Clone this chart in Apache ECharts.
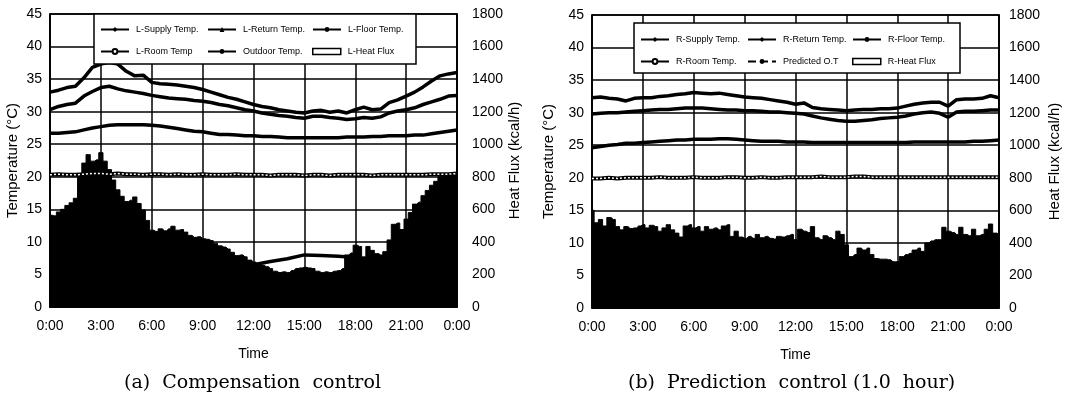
<!DOCTYPE html>
<html>
<head>
<meta charset="utf-8">
<script src="https://cdn.jsdelivr.net/npm/echarts@6/dist/echarts.min.js"></script>
<style>
html, body { margin: 0; padding: 0; background: #fff; }
#main { width: 1078px; height: 416px; }
</style>
</head>
<body>
<div id="main"></div>
<script>
// time stamps (hours) for the sampled series
var hoursHour = [];
for (var i = 0; i <= 24; i++) hoursHour.push(i);
var hoursHalf = [];
for (var i = 0; i <= 48; i++) hoursHalf.push(i / 2);
var hoursQuarter = [];
for (var i = 0; i <= 96; i++) hoursQuarter.push(i / 4);

var timeLabels = ['0:00', '3:00', '6:00', '9:00', '12:00', '15:00', '18:00', '21:00', '0:00'];

// (a) compensation control - temperatures every 30 min (°C)
var lSupply = [33.0, 33.3, 33.7, 33.9, 35.2, 36.8, 37.3, 37.6, 37.3, 36.2, 35.5, 35.6, 34.5, 34.3, 34.2, 34.1, 33.9, 33.7, 33.4, 33.0, 32.6, 32.2, 31.9, 31.5, 31.1,
    30.8, 30.6, 30.3, 30.1, 29.9, 29.8, 30.1, 30.2, 29.9, 30.1, 29.8, 30.3, 30.7, 30.3, 30.4, 31.4, 31.8, 32.4, 33.0, 33.8, 34.7, 35.5, 35.8, 36.0];
var lReturn = [30.3, 30.8, 31.1, 31.3, 32.4, 33.1, 33.7, 33.9, 33.5, 33.2, 33.0, 32.8, 32.5, 32.3, 32.1, 32.0, 31.9, 31.7, 31.6, 31.4, 31.1, 30.9, 30.6, 30.3, 30.1,
    29.8, 29.6, 29.4, 29.3, 29.1, 29.0, 29.3, 29.3, 29.1, 29.0, 28.8, 28.9, 29.1, 29.0, 29.2, 29.8, 30.1, 30.3, 30.6, 31.1, 31.5, 31.9, 32.4, 32.5];
var lFloor = [26.7, 26.7, 26.8, 26.9, 27.2, 27.5, 27.7, 27.9, 28.0, 28.0, 28.0, 28.0, 27.9, 27.8, 27.6, 27.4, 27.2, 27.0, 26.9, 26.7, 26.5, 26.5, 26.4, 26.3, 26.3,
    26.2, 26.2, 26.1, 26.0, 26.0, 26.0, 26.0, 26.0, 26.0, 26.0, 26.1, 26.1, 26.1, 26.2, 26.2, 26.3, 26.3, 26.3, 26.4, 26.4, 26.6, 26.8, 27.0, 27.2];
var lRoom = [20.3, 20.4, 20.3, 20.3, 20.4, 20.5, 20.5, 20.4, 20.5, 20.4, 20.4, 20.3, 20.4, 20.4, 20.3, 20.4, 20.3, 20.3, 20.4, 20.3, 20.3, 20.3, 20.4, 20.3, 20.3,
    20.3, 20.2, 20.3, 20.3, 20.3, 20.2, 20.3, 20.3, 20.2, 20.3, 20.3, 20.3, 20.3, 20.2, 20.3, 20.3, 20.3, 20.3, 20.3, 20.3, 20.4, 20.4, 20.4, 20.5];
// outdoor temperature every hour (°C)
var lOutdoor = [5.0, 4.8, 4.5, 4.3, 4.0, 3.8, 3.6, 3.5, 3.8, 4.3, 5.0, 5.8, 6.5, 7.0, 7.4, 8.0, 7.9, 7.8, 7.6, 7.0, 6.4, 5.8, 5.3, 5.0, 4.8];
// heat flux every 15 min (kcal/h)
var lFlux = [564, 560, 584, 600, 624, 640, 668, 800, 884, 936, 896, 904, 948, 896, 844, 780, 720, 680, 648, 656, 676, 636, 596, 532,
    472, 464, 480, 468, 480, 496, 472, 476, 460, 440, 428, 432, 420, 416, 408, 392, 376, 368, 356, 336, 316, 320, 308, 288,
    276, 264, 256, 248, 236, 220, 212, 216, 212, 224, 236, 240, 244, 240, 236, 220, 212, 216, 212, 220, 224, 236, 320, 332,
    380, 372, 308, 372, 348, 328, 320, 340, 412, 508, 516, 476, 540, 580, 632, 644, 684, 716, 748, 772, 800, 808, 812, 816, 820];

// (b) prediction control (1.0 hour)
var rSupply = [32.3, 32.4, 32.2, 32.1, 31.8, 32.2, 32.3, 32.3, 32.5, 32.6, 32.8, 32.9, 33.1, 33.0, 32.9, 33.0, 32.8, 32.6, 32.4, 32.3, 32.2, 32.0, 31.8, 31.6, 31.3,
    31.5, 30.8, 30.6, 30.5, 30.4, 30.3, 30.4, 30.5, 30.5, 30.6, 30.6, 30.7, 31.0, 31.3, 31.5, 31.6, 31.6, 31.0, 32.0, 32.1, 32.1, 32.2, 32.6, 32.3];
var rReturn = [29.8, 29.9, 30.0, 30.0, 30.1, 30.2, 30.3, 30.4, 30.5, 30.5, 30.6, 30.7, 30.7, 30.7, 30.6, 30.5, 30.4, 30.4, 30.3, 30.3, 30.2, 30.1, 30.1, 30.0, 29.9,
    29.8, 29.5, 29.2, 29.0, 28.8, 28.7, 28.7, 28.8, 28.9, 29.1, 29.2, 29.3, 29.5, 29.8, 30.0, 30.1, 29.9, 29.3, 30.1, 30.2, 30.2, 30.3, 30.4, 30.4];
var rFloor = [24.6, 24.8, 25.0, 25.1, 25.3, 25.3, 25.4, 25.5, 25.6, 25.7, 25.8, 25.8, 25.9, 25.9, 25.9, 26.0, 26.0, 25.9, 25.8, 25.7, 25.6, 25.6, 25.6, 25.5, 25.5,
    25.5, 25.4, 25.4, 25.4, 25.4, 25.4, 25.4, 25.4, 25.4, 25.4, 25.4, 25.4, 25.4, 25.5, 25.5, 25.5, 25.5, 25.5, 25.5, 25.5, 25.6, 25.6, 25.7, 25.8];
var rRoom = [19.9, 19.9, 20.0, 19.9, 20.0, 20.0, 20.0, 20.0, 20.1, 20.0, 20.0, 20.0, 20.1, 20.0, 20.0, 20.0, 20.1, 20.1, 20.0, 20.0, 20.1, 20.0, 20.0, 20.1, 20.1,
    20.1, 20.1, 20.2, 20.1, 20.1, 20.1, 20.2, 20.2, 20.1, 20.1, 20.1, 20.1, 20.1, 20.1, 20.1, 20.1, 20.1, 20.1, 20.1, 20.1, 20.1, 20.1, 20.1, 20.1];
var rPredOT = [4.3, 4.0, 3.8, 3.6, 3.4, 3.2, 3.1, 3.3, 3.8, 4.5, 5.2, 5.9, 6.4, 6.8, 7.0, 7.0, 6.8, 6.4, 5.8, 5.2, 4.6, 4.1, 3.6, 3.2, 2.9];
var rFlux = [600, 524, 544, 504, 556, 544, 500, 480, 500, 488, 492, 504, 512, 492, 508, 500, 472, 492, 512, 480, 460, 436, 504, 512,
    492, 500, 472, 500, 484, 492, 480, 504, 512, 440, 472, 436, 428, 440, 428, 452, 432, 440, 428, 424, 440, 436, 444, 452,
    420, 484, 472, 464, 500, 432, 420, 444, 432, 420, 472, 452, 388, 316, 328, 368, 356, 368, 328, 304, 300, 300, 296, 284,
    284, 316, 328, 336, 356, 368, 348, 400, 412, 420, 420, 496, 472, 464, 452, 496, 452, 444, 484, 444, 452, 484, 516, 460, 452];

var FONT = 'Liberation Sans';

function pairs(xs, ys) {
    return ys.map(function (v, i) { return [xs[i], v]; });
}

function tempLine(name, panel, xs, ys, symbol, width, extra) {
    var s = {
        name: name,
        type: 'line',
        xAxisIndex: panel,
        yAxisIndex: panel * 2,
        data: pairs(xs, ys),
        symbol: symbol,
        symbolSize: 6,
        showSymbol: false,
        lineStyle: { color: '#000', width: width },
        itemStyle: { color: '#000', borderColor: '#000' },
        z: 3
    };
    for (var k in extra) s[k] = extra[k];
    return s;
}

function fluxArea(name, panel, ys) {
    return {
        name: name,
        type: 'line',
        xAxisIndex: panel,
        yAxisIndex: panel * 2 + 1,
        data: pairs(hoursQuarter, ys),
        step: 'middle',
        symbol: 'none',
        lineStyle: { color: '#000', width: 1 },
        itemStyle: { color: '#000' },
        areaStyle: { color: '#000', opacity: 1 },
        z: 1
    };
}

function xAxisFor(panel) {
    return {
        type: 'value', gridIndex: panel, min: 0, max: 24, interval: 3,
        axisLine: { show: true, lineStyle: { color: '#000', width: 1.5 } },
        axisTick: { show: false },
        axisLabel: {
            margin: 12, color: '#000', fontSize: 14, fontFamily: FONT,
            formatter: function (v) { return timeLabels[Math.round(v / 3)]; }
        },
        splitLine: { show: true, lineStyle: { color: '#000', width: 1.5 } },
        name: 'Time', nameLocation: 'middle', nameGap: 40,
        nameTextStyle: { color: '#000', fontSize: 14, fontFamily: FONT }
    };
}

function tempAxis(panel, gap) {
    return {
        type: 'value', gridIndex: panel, position: 'left', min: 0, max: 45, interval: 5,
        axisLine: { show: true, lineStyle: { color: '#000', width: 1.5 } },
        axisTick: { show: false },
        axisLabel: { margin: 8, color: '#000', fontSize: 14, fontFamily: FONT },
        splitLine: { show: true, lineStyle: { color: '#000', width: 1.5 } },
        name: 'Temperature (°C)', nameLocation: 'middle', nameGap: gap, nameRotate: 90,
        nameTextStyle: { color: '#000', fontSize: 15, fontFamily: FONT }
    };
}

function fluxAxis(panel, margin, gap) {
    return {
        type: 'value', gridIndex: panel, position: 'right', min: 0, max: 1800, interval: 200,
        axisLine: { show: true, lineStyle: { color: '#000', width: 1.5 } },
        axisTick: { show: false },
        axisLabel: {
            margin: margin, color: '#000', fontSize: 14, fontFamily: FONT,
            formatter: function (v) { return String(v); }
        },
        splitLine: { show: false },
        name: 'Heat Flux (kcal/h)', nameLocation: 'middle', nameGap: gap, nameRotate: 90,
        nameTextStyle: { color: '#000', fontSize: 15, fontFamily: FONT }
    };
}

function legendItem(item, left, top) {
    return {
        data: [item], left: left, top: top, padding: 0,
        itemWidth: 28, itemHeight: 6, itemGap: 0, z: 10,
        selectedMode: false,
        textStyle: { color: '#000', fontSize: 9, fontFamily: 'Liberation Sans Narrow, Liberation Sans', padding: [0, 0, 0, 2] }
    };
}

var fluxIcon = function (name) {
    return { name: name, icon: 'rect', itemStyle: { color: '#fff', borderColor: '#000', borderWidth: 1.5 } };
};

var chart = echarts.init(document.getElementById('main'));
chart.setOption({
    animation: false,
    backgroundColor: '#fff',
    grid: [
        { left: 50, top: 14, width: 407, height: 293, show: true, borderColor: '#000', borderWidth: 1.5 },
        { left: 592, top: 15, width: 407, height: 293, show: true, borderColor: '#000', borderWidth: 1.5 }
    ],
    xAxis: [xAxisFor(0), xAxisFor(1)],
    yAxis: [tempAxis(0, 30), fluxAxis(0, 15, 48), tempAxis(1, 36), fluxAxis(1, 10, 48)],
    legend: [
        legendItem('L-Supply Temp.', 100, 25),
        legendItem('L-Return Temp.', 207, 25),
        legendItem('L-Floor Temp.', 312, 25),
        legendItem('L-Room Temp', 100, 47),
        legendItem('Outdoor Temp.', 207, 47),
        legendItem(fluxIcon('L-Heat Flux'), 312, 47),
        legendItem('R-Supply Temp.', 640, 35),
        legendItem('R-Return Temp.', 747, 35),
        legendItem('R-Floor Temp.', 852, 35),
        legendItem('R-Room Temp.', 640, 57),
        legendItem('Predicted O.T', 747, 57),
        legendItem(fluxIcon('R-Heat Flux'), 852, 57)
    ],
    graphic: [
        { type: 'rect', z: 8, shape: { x: 94, y: 14, width: 322, height: 50 },
          style: { fill: '#fff', stroke: '#000', lineWidth: 1.5 } },
        { type: 'rect', z: 8, shape: { x: 634, y: 23, width: 326, height: 50 },
          style: { fill: '#fff', stroke: '#000', lineWidth: 1.5 } },
        { type: 'text', z: 8, left: 124, top: 374,
          style: { text: '(a)  Compensation  control', fill: '#000', font: '19px "DejaVu Serif"' } },
        { type: 'text', z: 8, left: 628, top: 374,
          style: { text: '(b)  Prediction  control (1.0  hour)', fill: '#000', font: '19px "DejaVu Serif"' } }
    ],
    series: [
        fluxArea('L-Heat Flux', 0, lFlux),
        tempLine('Outdoor Temp.', 0, hoursHour, lOutdoor, 'circle', 3.5),
        tempLine('L-Floor Temp.', 0, hoursHalf, lFloor, 'circle', 3.5),
        tempLine('L-Return Temp.', 0, hoursHalf, lReturn, 'triangle', 3.5),
        tempLine('L-Supply Temp.', 0, hoursHalf, lSupply, 'diamond', 3.5),
        tempLine('L-Room Temp', 0, hoursHalf, lRoom, 'emptyCircle', 4),
        tempLine('L-Room Temp', 0, hoursHalf, lRoom, 'none', 1.5,
            { lineStyle: { color: '#fff', width: 1.5, type: [2, 2] }, z: 4 }),

        fluxArea('R-Heat Flux', 1, rFlux),
        tempLine('Predicted O.T', 1, hoursHour, rPredOT, 'circle', 2, { lineStyle: { color: '#000', width: 2, type: 'dashed' } }),
        tempLine('R-Floor Temp.', 1, hoursHalf, rFloor, 'circle', 3.5),
        tempLine('R-Return Temp.', 1, hoursHalf, rReturn, 'diamond', 3.5),
        tempLine('R-Supply Temp.', 1, hoursHalf, rSupply, 'diamond', 3.5),
        tempLine('R-Room Temp.', 1, hoursHalf, rRoom, 'emptyCircle', 4),
        tempLine('R-Room Temp.', 1, hoursHalf, rRoom, 'none', 1.5,
            { lineStyle: { color: '#fff', width: 1.5, type: [2, 2] }, z: 4 })
    ]
});
</script>
</body>
</html>
